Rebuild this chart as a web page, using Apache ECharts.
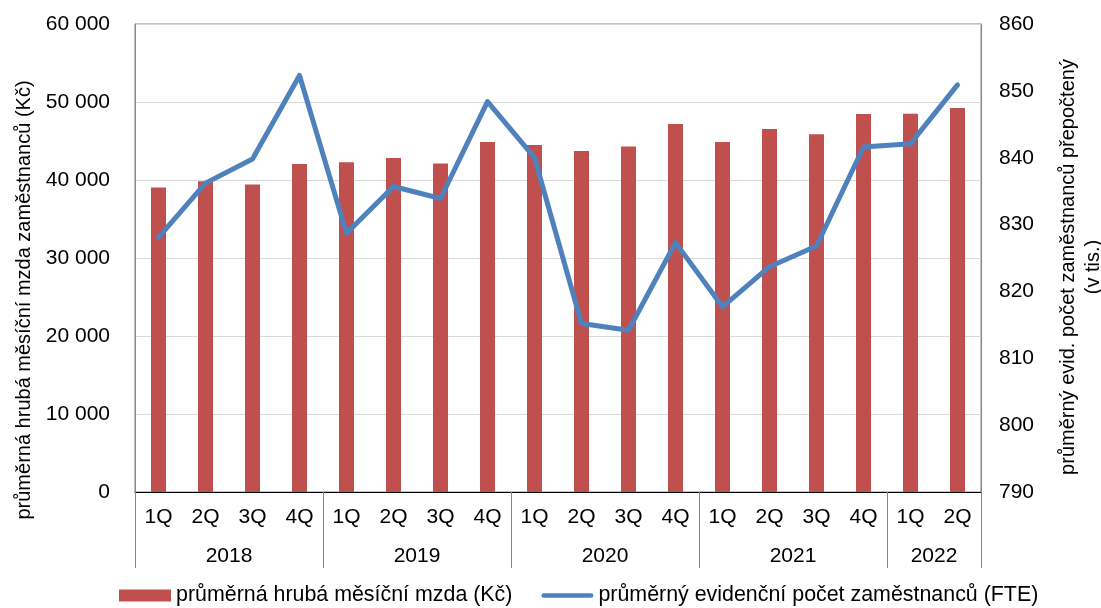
<!DOCTYPE html>
<html>
<head>
<meta charset="utf-8">
<script src="https://cdn.jsdelivr.net/npm/echarts@6/dist/echarts.min.js"></script>
<style>
html,body{margin:0;padding:0;background:#fff;}
#chart{width:1101px;height:608px;}
</style>
</head>
<body>
<div id="chart"></div>
<script>
// ---- data ----
var quarters = ['1Q','2Q','3Q','4Q','1Q','2Q','3Q','4Q','1Q','2Q','3Q','4Q','1Q','2Q','3Q','4Q','1Q','2Q'];
var years = ['2018','2019','2020','2021','2022'];
var yearSpans = [4,4,4,4,2];
var wages = [39050,39850,39430,42040,42260,42810,42130,44860,44480,43710,44310,47170,44860,46530,45850,48450,48480,49220];
var employees = [828.1,836.2,839.8,852.3,828.7,835.7,833.9,848.4,840.0,815.2,814.2,827.3,817.7,823.7,826.8,841.6,842.1,850.9];
var wageName = 'průměrná hrubá měsíční mzda (Kč)';
var empName = 'průměrný evidenční počet zaměstnanců (FTE)';
var leftAxisTitle = 'průměrná hrubá měsíční mzda zaměstnanců (Kč)';
var rightAxisTitle = 'průměrný evid. počet zaměstnanců přepočtený\n(v tis.)';

// year group boundaries and centres (in category units)
var bounds = [0], centres = [];
(function(){
  var acc = 0;
  for (var i = 0; i < yearSpans.length; i++) {
    centres.push(acc + yearSpans[i] / 2);
    acc += yearSpans[i];
    bounds.push(acc);
  }
})();

var FONT = 'Liberation Sans, Arial, sans-serif';
var FS = 21;
var chart = echarts.init(document.getElementById('chart'), null, {renderer: 'canvas'});
chart.setOption({
  animation: false,
  textStyle: {fontFamily: FONT},
  grid: {left: 135, right: 120, top: 24, bottom: 116, show: true, borderColor: '#868686', borderWidth: 1,
         backgroundColor: 'transparent', outerBoundsMode: 'none', containLabel: false},
  legend: {
    left: 119, top: 585, padding: 0,
    itemWidth: 52, itemHeight: 12, itemGap: 29,
    textStyle: {fontSize: 21.4, color: '#000', fontFamily: FONT},
    data: [
      {name: wageName, icon: 'rect'},
      {name: empName, icon: 'path://M2.5,0 H54.5 A2.5,2.5 0 0 1 54.5,5 H2.5 A2.5,2.5 0 0 1 2.5,0 Z'}
    ]
  },
  xAxis: [
    {
      type: 'category', data: quarters, position: 'bottom',
      axisLine: {show: true, lineStyle: {color: '#000', width: 1}},
      axisTick: {show: false},
      axisLabel: {fontSize: FS, color: '#000', margin: 15, interval: 0, fontFamily: FONT},
      splitLine: {show: false}
    },
    {
      type: 'value', min: 0, max: bounds[bounds.length - 1], position: 'bottom',
      axisLine: {show: false},
      splitLine: {show: false},
      axisTick: {show: true, customValues: bounds, length: 76, inside: false, lineStyle: {color: '#868686', width: 1}},
      axisLabel: {
        show: true, customValues: centres, margin: 54, fontSize: FS, color: '#000', fontFamily: FONT,
        formatter: function (v) {
          var idx = centres.indexOf(v);
          return idx >= 0 ? years[idx] : '';
        }
      }
    }
  ],
  yAxis: [
    {
      type: 'value', min: 0, max: 60000, interval: 10000, position: 'left',
      name: leftAxisTitle, nameLocation: 'middle', nameRotate: 90, nameGap: 100,
      nameTextStyle: {fontSize: 20, color: '#000', fontFamily: FONT, padding: [0, 84, 0, 0]},
      axisLine: {show: true, lineStyle: {color: '#868686'}},
      axisTick: {show: false},
      axisLabel: {
        fontSize: FS, color: '#000', margin: 25, fontFamily: FONT,
        formatter: function (v) { return String(v).replace(/\B(?=(\d{3})+(?!\d))/g, ' '); }
      },
      splitLine: {show: true, lineStyle: {color: '#D9D9D9', width: 1}}
    },
    {
      type: 'value', min: 790, max: 860, interval: 10, position: 'right',
      name: rightAxisTitle, nameLocation: 'middle', nameRotate: 90, nameGap: 75,
      nameTextStyle: {fontSize: 20, color: '#000', fontFamily: FONT, lineHeight: 25, padding: [0, 18, 0, 0]},
      axisLine: {show: true, lineStyle: {color: '#868686'}},
      axisTick: {show: false},
      axisLabel: {fontSize: FS, color: '#000', margin: 18, fontFamily: FONT},
      splitLine: {show: false}
    }
  ],
  series: [
    {
      name: wageName, type: 'bar', data: wages, xAxisIndex: 0, yAxisIndex: 0,
      barWidth: 15, itemStyle: {color: '#C0504D'}, z: 2
    },
    {
      name: empName, type: 'line', data: employees, xAxisIndex: 0, yAxisIndex: 1,
      symbol: 'none', lineStyle: {color: '#4F81BD', width: 5, cap: 'round', join: 'round'},
      itemStyle: {color: '#4F81BD'}, z: 3
    }
  ]
});
</script>
</body>
</html>
